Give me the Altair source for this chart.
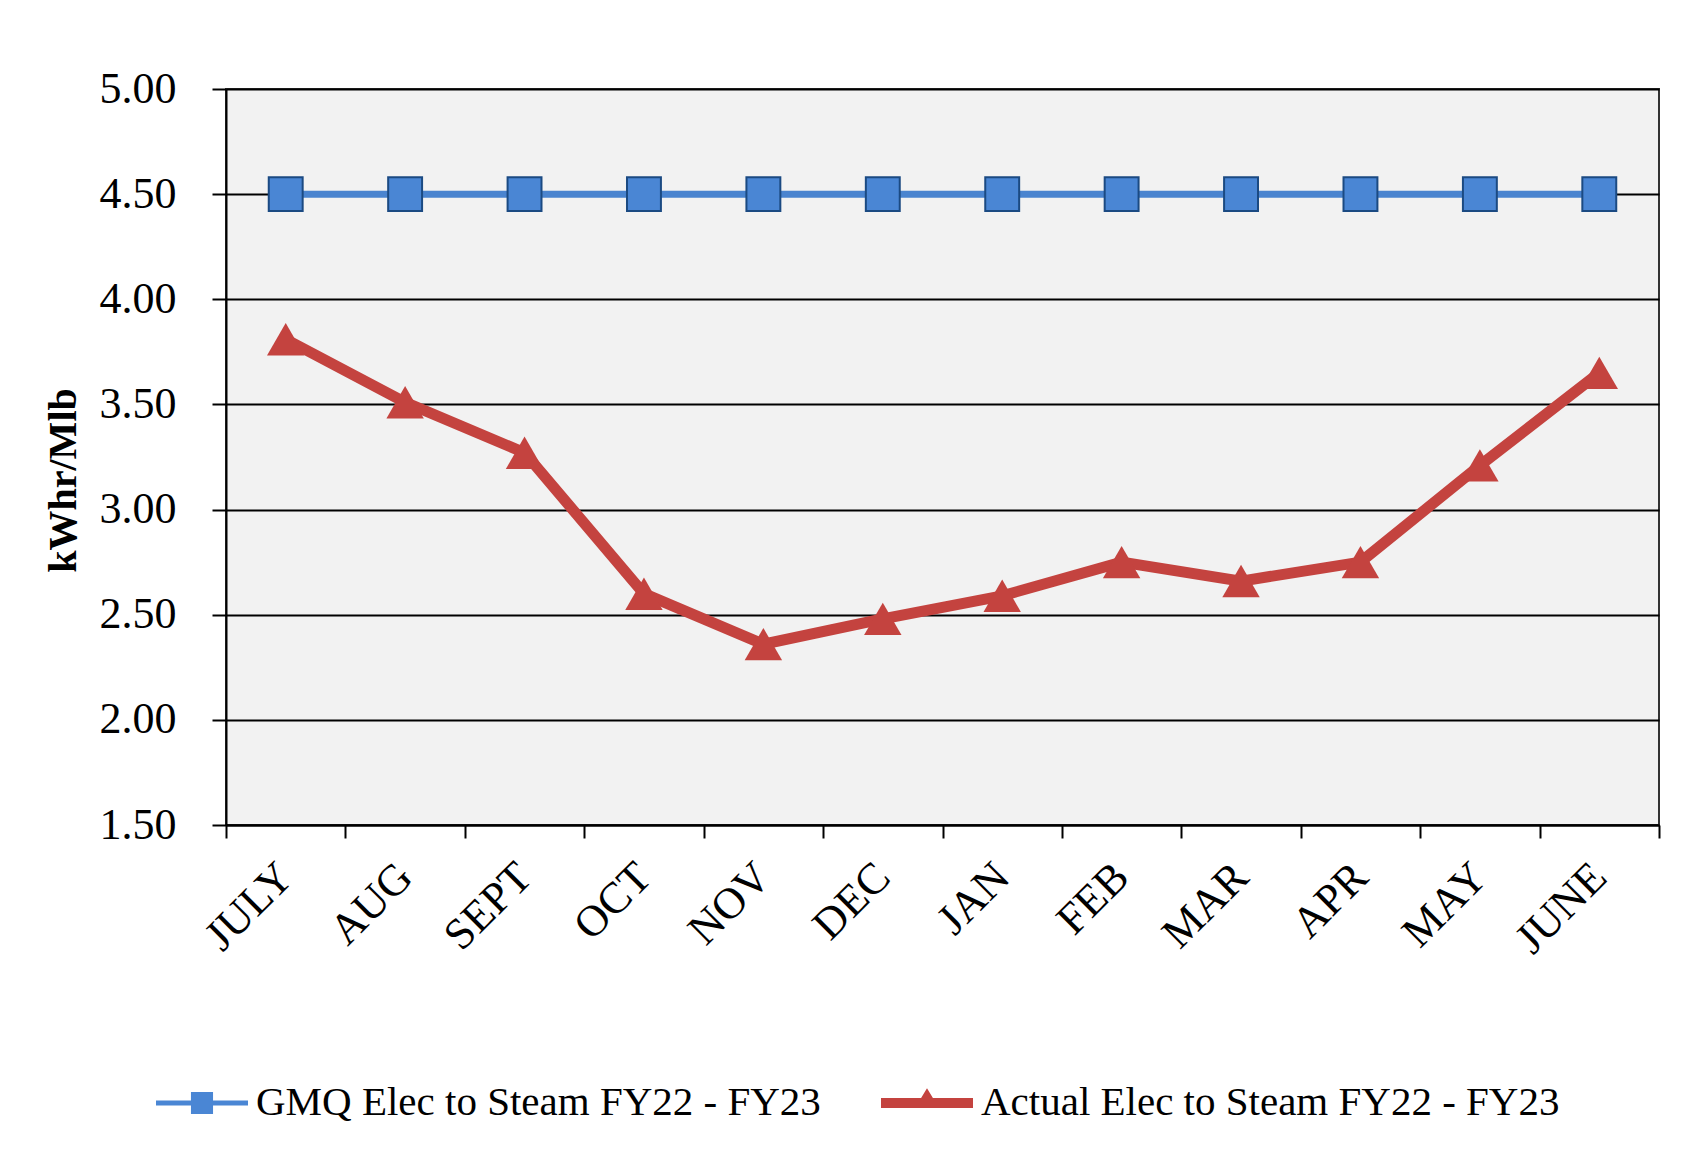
import altair as alt
import pandas as pd

months = ["JULY", "AUG", "SEPT", "OCT", "NOV", "DEC", "JAN", "FEB", "MAR", "APR", "MAY", "JUNE"]
gmq_values = [4.50, 4.50, 4.50, 4.50, 4.50, 4.50, 4.50, 4.50, 4.50, 4.50, 4.50, 4.50]
actual_values = [3.81, 3.51, 3.27, 2.60, 2.36, 2.48, 2.59, 2.75, 2.66, 2.75, 3.21, 3.65]
series_names = ["GMQ Elec to Steam FY22 - FY23", "Actual Elec to Steam FY22 - FY23"]
y_ticks = [1.5, 2.0, 2.5, 3.0, 3.5, 4.0, 4.5, 5.0]

BLUE_LINE = "#4A84CF"
BLUE_FILL = "#4A86D4"
BLUE_STROKE = "#1B4A82"
RED = "#C4433F"
FONT = "Liberation Serif"

rows = []
for m, g, a in zip(months, gmq_values, actual_values):
    rows.append({"month": m, "series": series_names[0], "value": g})
    rows.append({"month": m, "series": series_names[1], "value": a})
df = pd.DataFrame(rows)

x = alt.X(
    "month:N",
    sort=months,
    scale=alt.Scale(type="band", paddingInner=0, paddingOuter=0),
    axis=alt.Axis(
        title=None,
        labelAngle=315,
        labelAlign="right",
        labelBaseline="middle",
        labelFont=FONT,
        labelFontSize=44,
        labelColor="black",
        labelPadding=32,
        tickBand="extent",
        tickExtra=True,
        tickSize=13,
        tickColor="black",
        tickWidth=2,
        domainColor="black",
        domainWidth=2,
        grid=False,
    ),
)
y = alt.Y(
    "value:Q",
    scale=alt.Scale(domain=[1.5, 5.0], nice=False, zero=False),
    axis=alt.Axis(
        values=y_ticks,
        format=".2f",
        title="kWhr/Mlb",
        titleFont=FONT,
        titleFontSize=40,
        titleFontWeight="bold",
        titleColor="black",
        titleAngle=270,
        titleX=-163,
        titleY=391,
        titleAlign="center",
        titleBaseline="middle",
        labelFont=FONT,
        labelFontSize=44,
        labelColor="black",
        labelPadding=36,
        tickSize=14,
        tickColor="black",
        tickWidth=2,
        domainColor="black",
        domainWidth=2,
        gridColor="black",
        gridWidth=2,
    ),
)

base = alt.Chart(df).encode(x=x, y=y)

gmq = base.transform_filter(alt.datum.series == series_names[0])
act = base.transform_filter(alt.datum.series == series_names[1])

blue_line = gmq.mark_line(color=BLUE_LINE, strokeWidth=7)
blue_pts = gmq.mark_point(shape="square", filled=True, fill=BLUE_FILL, stroke=BLUE_STROKE,
                          strokeWidth=2, size=1150, opacity=1)
red_line = act.mark_line(color=RED, strokeWidth=11)
red_pts = act.mark_point(shape="triangle-up", filled=True, color=RED, size=1400, opacity=1)

legend_paths = [
    "M-1,-0.055H1V0.055H-1Z M-0.24,-0.24H0.24V0.24H-0.24Z",
    "M-1,-0.11H1V0.11H-1Z M0,-0.32L0.26,0.11L-0.26,0.11Z",
]

# legend-only layer: tiny symbols drawn underneath the real markers
legend_layer = base.mark_point(filled=True, size=30, opacity=1).encode(
    color=alt.Color("series:N", sort=series_names,
                    scale=alt.Scale(domain=series_names, range=[BLUE_FILL, RED]),
                    legend=alt.Legend(
                        title=None,
                        orient="none",
                        direction="horizontal",
                        legendX=-70,
                        legendY=968,
                        symbolSize=8464,
                        symbolOpacity=1,
                        symbolStrokeWidth=0,
                        labelFont=FONT,
                        labelFontSize=41,
                        labelColor="black",
                        labelLimit=2000,
                        labelOffset=8,
                        columnPadding=60,
                    )),
    shape=alt.Shape("series:N", sort=series_names,
                    scale=alt.Scale(domain=series_names, range=legend_paths)),
)

chart = (
    alt.layer(legend_layer, blue_line, red_line, blue_pts, red_pts)
    .properties(
        width=1433,
        height=736,
        autosize=alt.AutoSizeParams(type="none"),
        padding={"left": 218, "top": 81, "right": 20, "bottom": 330},
        background="white",
    )
    .configure_view(stroke="#333333", strokeWidth=2, fill="#F2F2F2")
)

chart.save("out.html", embed_options={"renderer": "svg", "actions": False})
